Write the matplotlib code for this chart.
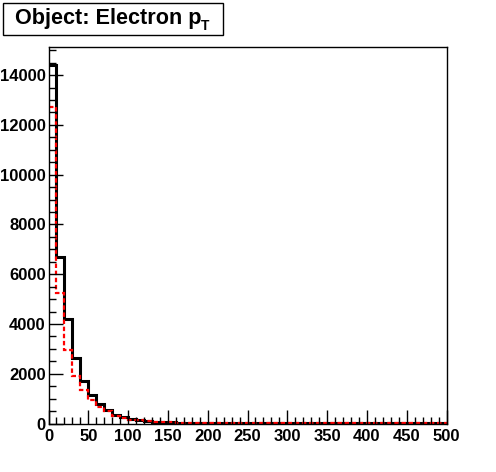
import numpy as np
import matplotlib
matplotlib.use("Agg")
import matplotlib.pyplot as plt
from matplotlib.ticker import MultipleLocator
from matplotlib.patches import Rectangle

bin_edges = np.arange(0, 510, 10)
black_counts = [14400, 6690, 4190, 2640, 1712, 1150, 790, 540, 355, 270,
                170, 130, 100, 75, 58, 45, 36, 30, 25, 21,
                18, 15, 13, 11, 10, 9, 8, 7, 6, 6,
                5, 5, 4, 4, 4, 3, 3, 3, 3, 2,
                2, 2, 2, 2, 2, 1, 1, 1, 1, 1]
red_counts = [12740, 5240, 2970, 1915, 1340, 960, 670, 485, 320, 225,
              160, 135, 95, 72, 56, 44, 35, 29, 24, 20,
              17, 15, 13, 11, 10, 9, 8, 7, 6, 6,
              5, 5, 4, 4, 4, 3, 3, 3, 3, 2,
              2, 2, 2, 2, 2, 1, 1, 1, 1, 1]
title_main = "Object: Electron p"
title_sub = "T"

plt.rcParams['font.family'] = ['Liberation Sans', 'DejaVu Sans']
plt.rcParams['font.weight'] = 'bold'

W, H = 496, 472
fig = plt.figure(figsize=(W/100, H/100), dpi=100)
ax = fig.add_axes([48.5/W, 1-423.5/H, (446.5-48.5)/W, (423.5-47.3)/H])

ax.stairs(black_counts, bin_edges, color='black', linewidth=2.2, baseline=None)
ax.stairs(red_counts, bin_edges, color='red', linewidth=1.6,
          linestyle=(0, (2, 1.2)), baseline=None)

ax.set_xlim(0, 500)
ax.set_ylim(0, max(black_counts) * 1.05)
ax.xaxis.set_major_locator(MultipleLocator(50))
ax.xaxis.set_minor_locator(MultipleLocator(10))
ax.yaxis.set_major_locator(MultipleLocator(2000))
ax.yaxis.set_minor_locator(MultipleLocator(500))
ax.tick_params(which='both', direction='in', labelsize=12, width=1)
ax.tick_params(which='major', length=10)
ax.tick_params(which='minor', length=5)
ax.tick_params(axis='y', pad=2)
ax.tick_params(axis='x', pad=4)
for lab in ax.get_xticklabels() + ax.get_yticklabels():
    lab.set_fontweight('bold')
for s in ax.spines.values():
    s.set_linewidth(1)

# title box
fig.patches.append(Rectangle((2.5/W, 1-35/H), (223-2.5)/W, (35-3)/H,
                             transform=fig.transFigure, facecolor='white',
                             edgecolor='black', linewidth=1))
fig.text(15/W, 1-24/H, title_main, fontsize=15.6, fontweight='bold',
         ha='left', va='baseline')
fig.text(201/W, 1-29.5/H, title_sub, fontsize=10, fontweight='bold',
         ha='left', va='baseline')

fig.savefig("out.png", dpi=100, facecolor='white')
